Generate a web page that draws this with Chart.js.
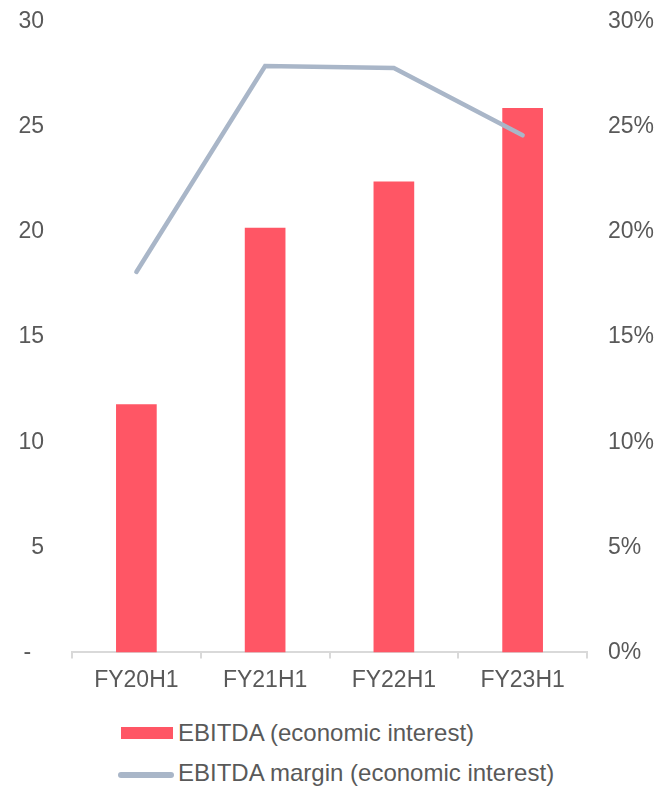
<!DOCTYPE html>
<html>
<head>
<meta charset="utf-8">
<script src="https://cdn.jsdelivr.net/npm/chart.js@4.4.1/dist/chart.umd.min.js"></script>
<style>
  html, body { margin: 0; padding: 0; background: #fff; overflow: hidden; }
  #wrap { position: relative; width: 659px; height: 787px; font-family: 'Liberation Sans', Arial, sans-serif; color: #595959; overflow: hidden; }
  #chartBox { position: absolute; left: 0; top: -20px; width: 659px; height: 728px; }
  .leg-row { position: absolute; left: 0; height: 30px; display: flex; align-items: center; font-size: 24px; white-space: nowrap; }
  .leg-bar { position: absolute; left: 121px; width: 52px; height: 12px; }
  .leg-line { position: absolute; left: 118px; width: 56px; height: 6px; border-radius: 3px; }
  .leg-text { position: absolute; left: 178px; }
</style>
</head>
<body>
<div id="wrap">
  <div id="chartBox"><canvas id="chartEbitda" role="img" aria-label="EBITDA and EBITDA margin (economic interest)"></canvas></div>
  <div id="legend"></div>
</div>
<script>
var periods = ['FY20H1', 'FY21H1', 'FY22H1', 'FY23H1'];
var ebitda = [11.8, 20.2, 22.4, 25.9];
var margin = [18.1, 27.9, 27.8, 24.6];
var leftTicks = [0, 5, 10, 15, 20, 25, 30];
var rightTicks = [0, 5, 10, 15, 20, 25, 30];
var seriesNames = ['EBITDA (economic interest)', 'EBITDA margin (economic interest)'];

var barColor = '#FF5665';
var lineColor = '#A9B6C8';
var textColor = '#595959';
var axisColor = '#D9D9D9';
var font = { family: "'Liberation Sans', Arial, sans-serif", size: 23 };

function renderLegend() {
  var el = document.getElementById('legend');
  el.innerHTML =
    '<div class="leg-row" style="top:718px"><span class="leg-bar" style="background:' + barColor + ';top:9px"></span><span class="leg-text">' + seriesNames[0] + '</span></div>' +
    '<div class="leg-row" style="top:758px"><span class="leg-line" style="background:' + lineColor + ';top:14px"></span><span class="leg-text">' + seriesNames[1] + '</span></div>';
}

renderLegend();

new Chart(document.getElementById('chartEbitda'), {
  type: 'bar',
  data: {
    labels: periods,
    datasets: [
      { type: 'line', label: seriesNames[1], data: margin, yAxisID: 'y1', borderColor: lineColor, borderWidth: 4.5,
        borderCapStyle: 'round', borderJoinStyle: 'miter', pointRadius: 0, tension: 0, fill: false, order: 0 },
      { type: 'bar', label: seriesNames[0], data: ebitda, yAxisID: 'y', backgroundColor: barColor,
        categoryPercentage: 1, barPercentage: 0.316, order: 1 }
    ]
  },
  options: {
    responsive: true, maintainAspectRatio: false, animation: false,
    layout: { padding: { top: 8, right: 0, bottom: 6, left: 0 } },
    plugins: { legend: { display: false }, tooltip: { enabled: false } },
    scales: {
      x: {
        offset: true,
        grid: { display: true, offset: true, drawOnChartArea: false, drawTicks: true, tickLength: 6, color: axisColor, lineWidth: 2 },
        border: { display: true, color: axisColor, width: 2 },
        ticks: { color: textColor, font: font, padding: 8, maxRotation: 0 }
      },
      y: {
        position: 'left', min: 0, max: 30,
        afterBuildTicks: function(s) { s.ticks = leftTicks.map(function(v) { return { value: v }; }); },
        afterFit: function(s) { s.width = 72; },
        grid: { display: false, drawTicks: false },
        border: { display: false },
        ticks: { color: textColor, font: font, padding: 28, callback: function(v) { return v === 0 ? '-  ' : String(v); } }
      },
      y1: {
        position: 'right', min: 0, max: 30,
        afterBuildTicks: function(s) { s.ticks = rightTicks.map(function(v) { return { value: v }; }); },
        afterFit: function(s) { s.width = 72; },
        grid: { display: false, drawTicks: false },
        border: { display: false },
        ticks: { color: textColor, font: font, padding: 21, callback: function(v) { return v + '%'; } }
      }
    }
  }
});
</script>
</body>
</html>
